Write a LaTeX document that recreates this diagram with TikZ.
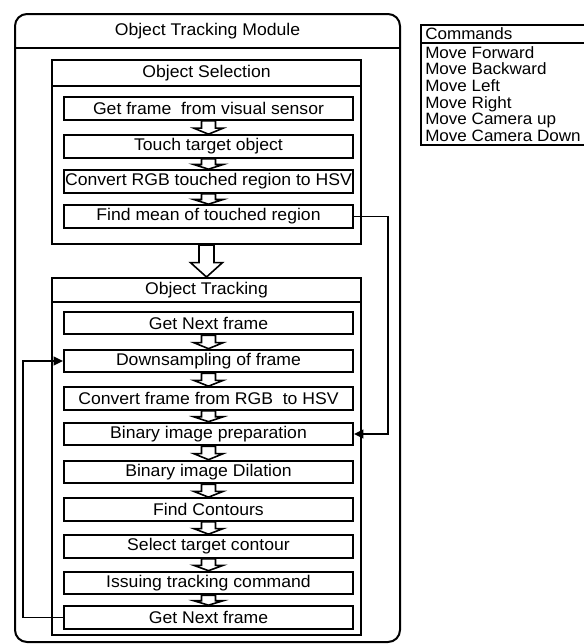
\documentclass[tikz,border=0pt]{standalone}
\usepackage{fontspec}
\setmainfont{Liberation Sans}[FakeStretch=1.04]
\usetikzlibrary{arrows.meta,calc}

\newcommand{\stepfont}{\fontsize{12.7}{12.5}\selectfont}
\newcommand{\listfont}{\fontsize{12.3}{12.5}\selectfont}

% hollow down arrow between two boxes: from, to, shaft half width, head half width
\newcommand{\fatdown}[4]{%
  \draw[hollow] let \p1=(#1.south), \p2=(#2.north), \n1={0.55*(\y1-\y2)} in
    (\x1-#3,\y1) -- (\x1-#3,\y1-\n1) -- (\x1-#4,\y1-\n1) -- (\x1,\y2)
    -- (\x1+#4,\y1-\n1) -- (\x1+#3,\y1-\n1) -- (\x1+#3,\y1) -- cycle;}

\tikzset{
  stepbox/.style={draw, line width=1.5pt, minimum width=216.75pt, minimum height=17pt, inner sep=0pt, font=\stepfont},
  groupbox/.style={draw, line width=1.5pt, minimum width=231.75pt, inner sep=0pt},
  hollow/.style={draw, line width=1.2pt, fill=white},
  link/.style={line width=1.3pt, -{Triangle[length=7pt,width=6.5pt]}},
}

\begin{document}
\begin{tikzpicture}[x=0.75pt,y=-0.75pt]
    \useasboundingbox (0,0) rectangle (584,644);

    % module frame
    \node[draw, line width=1.5pt, rounded corners=9pt, minimum width=288.75pt, minimum height=471pt, inner sep=0pt] (module) at (207.5,328) {};
    \draw[line width=1.5pt] (module.west |- 0,48) -- (module.east |- 0,48);
    \node[font=\stepfont] (modtitle) at (207.5,31) {Object Tracking Module};

    % object selection
    \node[groupbox, minimum height=138pt] (sel) at (206.5,152) {};
    \draw[line width=1.5pt] (sel.west |- 0,86) -- (sel.east |- 0,86);
    \node[font=\stepfont] (seltitle) at (206.5,73) {Object Selection};

    \node[stepbox] (getframe) at (208.5,108.5) {Get frame~ from visual sensor};
    \node[stepbox] (touch) at (208.5,146.5) {Touch target object};
    \node[stepbox] (convert) at (208.5,181.5) {Convert RGB touched region to HSV};
    \node[stepbox] (findmean) at (208.5,216.5) {Find mean of touched region};

    % object tracking
    \node[groupbox, minimum height=267.75pt] (trk) at (206.5,456.5) {};
    \draw[line width=1.5pt] (trk.west |- 0,302) -- (trk.east |- 0,302);
    \node[font=\stepfont] (trktitle) at (206.5,290) {Object Tracking};

    \node[stepbox] (nextframe) at (208.5,323) {Get Next frame};
    \node[stepbox] (downsample) at (208.5,361) {Downsampling of frame};
    \node[stepbox] (tohsv) at (208.5,398.5) {Convert frame from RGB~ to HSV};
    \node[stepbox] (binprep) at (208.5,434) {Binary image preparation};
    \node[stepbox] (dilate) at (208.5,472) {Binary image Dilation};
    \node[stepbox] (contours) at (208.5,509.5) {Find Contours};
    \node[stepbox] (target) at (208.5,546.5) {Select target contour};
    \node[stepbox] (issue) at (208.5,583) {Issuing tracking command};
    \node[stepbox] (nextframeb) at (208.5,617.5) {Get Next frame};

    % hollow arrows
    \fatdown{getframe}{touch}{5.25pt}{11pt}
    \fatdown{touch}{convert}{5.25pt}{11pt}
    \fatdown{convert}{findmean}{5.25pt}{11pt}
    \fatdown{sel}{trk}{5.6pt}{12pt}
    \fatdown{nextframe}{downsample}{5.25pt}{11pt}
    \fatdown{downsample}{tohsv}{5.25pt}{11pt}
    \fatdown{tohsv}{binprep}{5.25pt}{11pt}
    \fatdown{binprep}{dilate}{5.25pt}{11pt}
    \fatdown{dilate}{contours}{5.25pt}{11pt}
    \fatdown{contours}{target}{5.25pt}{11pt}
    \fatdown{target}{issue}{5.25pt}{11pt}
    \fatdown{issue}{nextframeb}{5.25pt}{11pt}

    % feedback lines
    \draw[link] (findmean.east) -- ++(25.5pt,0) |- (binprep.east);
    \draw[link] (nextframeb.west) -- ++(-30pt,0) |- (downsample.west);

    % commands list
    \node[draw, line width=1.5pt, anchor=north west, minimum width=135pt, minimum height=90pt, inner sep=0pt] (cmds) at (420,24) {};
    \draw[line width=1.5pt] (cmds.west |- 0,43) -- (cmds.east |- 0,43);
    \node[font=\listfont, anchor=west, inner sep=0pt] (cmdhead) at (425,34) {Commands};
    \node[font=\listfont, anchor=north west, align=left, inner sep=0pt] (cmdlist) at (425,46)
      {Move Forward\\Move Backward\\Move Left\\Move Right\\Move Camera up\\Move Camera Down};
\end{tikzpicture}
\end{document}
